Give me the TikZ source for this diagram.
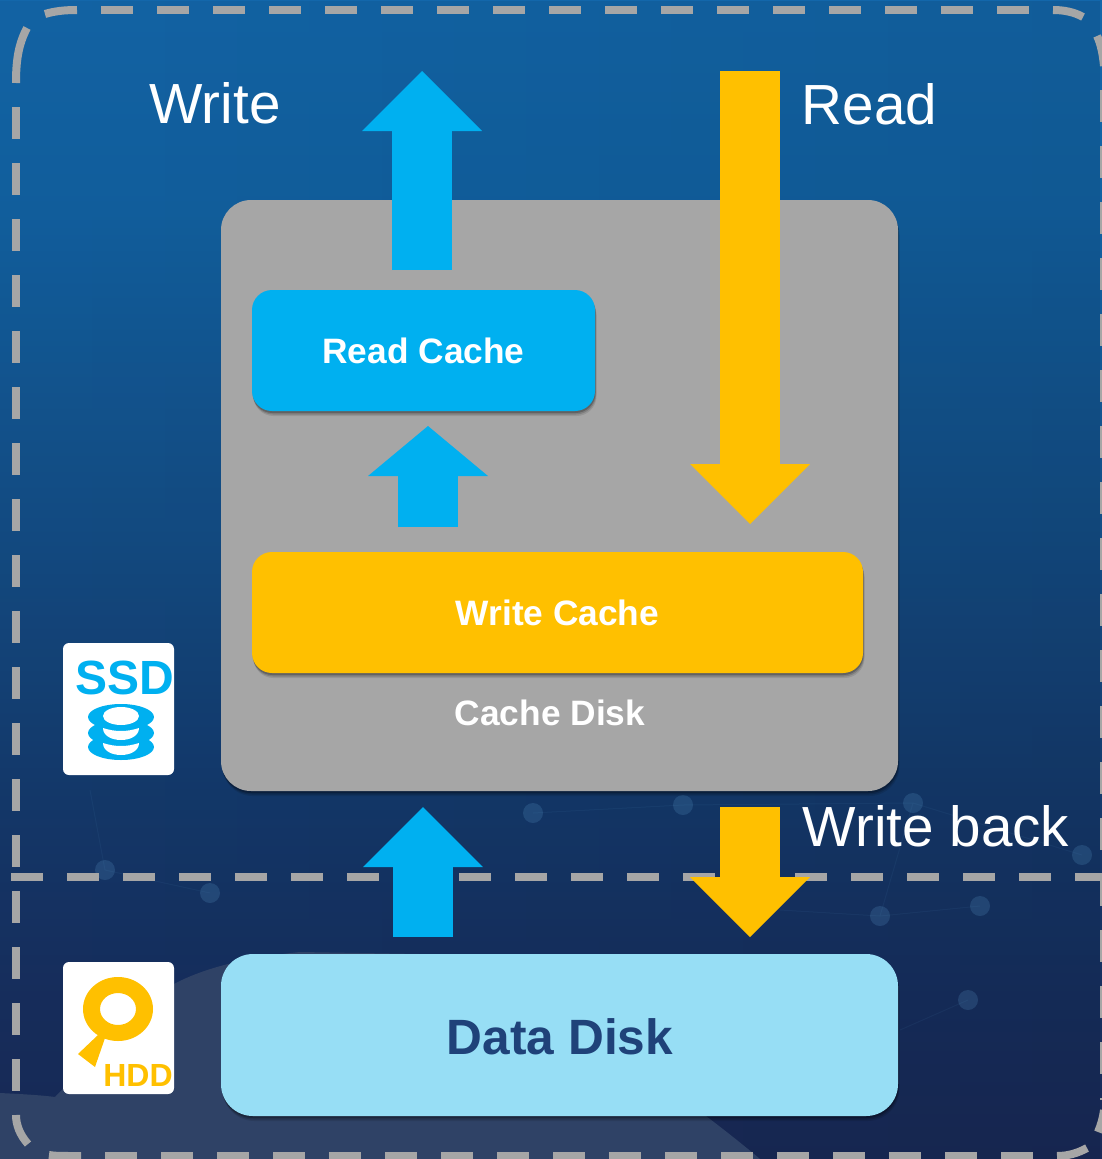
\documentclass[tikz,border=0pt]{standalone}
\usepackage{fontspec}
\setmainfont{Liberation Sans}
\usetikzlibrary{arrows.meta,shadows,fadings}
\definecolor{cblue}{HTML}{00B0F0}
\definecolor{cgold}{HTML}{FFC000}
\definecolor{cgrey}{HTML}{A6A6A6}
\definecolor{clight}{HTML}{97DEF5}
\definecolor{cnavy}{HTML}{1F4279}
\definecolor{chill}{HTML}{2F4266}
\definecolor{cdot}{HTML}{5FA0D0}
\definecolor{bga}{rgb}{0.100,0.165,0.345}
\definecolor{bgb}{rgb}{0.090,0.185,0.375}
\definecolor{bgc}{rgb}{0.080,0.225,0.425}
\definecolor{bgd}{rgb}{0.075,0.310,0.535}
\definecolor{bge}{rgb}{0.070,0.385,0.640}
\definecolor{bgf}{rgb}{0.075,0.405,0.670}
\pgfdeclareverticalshading{bgshade}{100bp}{
 color(0bp)=(bga);
 color(25bp)=(bga);
 color(32bp)=(bgb);
 color(40bp)=(bgc);
 color(53bp)=(bgd);
 color(66bp)=(bge);
 color(75bp)=(bgf);
 color(100bp)=(bgf)}
\tikzfading[name=sidefade,left color=transparent!80,middle color=transparent!100,right color=transparent!50]
\tikzset{
 x=1pt,y=-1pt,
 softshadow/.style={
  general shadow={shadow xshift=1.5pt,shadow yshift=-5pt,opacity=.10,fill=black},
  general shadow={shadow xshift=1pt,shadow yshift=-3.5pt,opacity=.15,fill=black},
  general shadow={shadow xshift=.5pt,shadow yshift=-2pt,opacity=.22,fill=black}},
 cachebox/.style={rectangle,rounded corners=20pt,inner sep=0pt,font=\bfseries\fontsize{35.3}{35.3}\selectfont,text=white,softshadow},
 diskbox/.style={rectangle,inner sep=0pt,softshadow},
 iconbox/.style={rectangle,fill=white,rounded corners=6pt,inner sep=0pt,minimum width=111pt,minimum height=132pt},
 biglabel/.style={font=\fontsize{56.6}{56.6}\selectfont,text=white,inner sep=0pt},
 greyline/.style={draw=cgrey,line width=8pt,dash pattern=on 32pt off 24pt},
 greycurve/.style={draw=cgrey,line width=8pt},
 bluearrow/.style={draw=cblue,line width=60pt,-{Triangle[length=60pt,width=120pt,line width=0pt]}},
 shortarrow/.style={draw=cblue,line width=60pt,-{Triangle[length=50pt,width=120pt,line width=0pt]}},
 goldarrow/.style={draw=cgold,line width=60pt,-{Triangle[length=60pt,width=120pt,line width=0pt]}},
 netdot/.style={fill=cdot,opacity=.2},
 netline/.style={draw=cdot,opacity=.07,line width=1pt},
}
\begin{document}
\begin{tikzpicture}
\useasboundingbox (0,0) rectangle (1102,1159);
% background
\path[shading=bgshade] (0,0) rectangle (1102,1159);
\fill[black,opacity=.2,path fading=sidefade] (0,0) rectangle (1102,1159);
\fill[chill] (0,1093) .. controls (20,1094) and (40,1095) .. (55,1097) -- (120,1030) -- (174,984) .. controls (200,970) and (240,958) .. (300,952) -- (480,955) .. controls (600,1040) and (690,1100) .. (760,1159) -- (0,1159) -- cycle;
% network
\draw[netline] (105,870) -- (90,790) (105,870) -- (210,893) (533,813) -- (683,805) -- (913,803) -- (880,916) (880,916) -- (780,910) (913,803) -- (1082,855) (980,906) -- (880,916) (968,1000) -- (900,1030);
\foreach \p in {(105,870),(210,893),(533,813),(683,805),(913,803),(880,916),(980,906),(968,1000),(1082,855)}
 \fill[netdot] \p circle (10pt);
% dashed frame
\draw[greyline] (101,10) -- (1040,10);
\draw[greyline] (16,107) -- (16,1095);
\draw[greyline] (105,1156) -- (1050,1156);
\draw[greyline] (1104,90) -- (1104,1100);
\draw[greycurve] (16,83) .. controls (16,62) and (18,45) .. (27,28);
\draw[greycurve] (45,14) .. controls (55,11) and (65,10) .. (77,10);
\draw[greycurve] (16,1115) .. controls (16,1125) and (20,1135) .. (28,1144);
\draw[greycurve] (49,1155) .. controls (55,1156) and (60,1156) .. (81,1156);
\draw[greycurve] (1053,10) .. controls (1064,10) and (1074,12) .. (1083,17);
\draw[greycurve] (1097,36) .. controls (1101,44) and (1103,55) .. (1104,66);
\draw[greycurve] (1057,1156) .. controls (1068,1156) and (1078,1153) .. (1087,1148);
\draw[greycurve] (1104,1110) .. controls (1103,1118) and (1101,1125) .. (1098,1132);
\draw[greyline] (11,877) -- (1102,877);
% boxes
\node[diskbox,rounded corners=30pt,fill=cgrey,minimum width=677pt,minimum height=591pt] (cache) at (559.5,495.5) {};
\node[font=\bfseries\fontsize{35.3}{35.3}\selectfont,text=white,inner sep=0pt] (cachelabel) at (550,713) {Cache Disk};
\node[cachebox,fill=cblue,minimum width=343pt,minimum height=121pt] (readc) at (423.5,350.5) {Read Cache};
\node[cachebox,fill=cgold,minimum width=611pt,minimum height=121pt] (writec) at (557.5,612.5) {Write Cache};
\node[diskbox,rounded corners=32pt,fill=clight,minimum width=677pt,minimum height=162pt] (data) at (559.5,1035) {};
\node[font=\bfseries\fontsize{49.6}{49.6}\selectfont,text=cnavy,inner sep=0pt] (datatext) at (560,1037) {Data Disk};
% arrows
\coordinate (a1s) at (422,270); \coordinate (a1e) at (422,71);
\coordinate (a2s) at (428,527); \coordinate (a2e) at (428,426);
\coordinate (a3s) at (423,937); \coordinate (a3e) at (423,807);
\coordinate (a4s) at (750,71);  \coordinate (a4e) at (750,524);
\coordinate (a5s) at (750,807); \coordinate (a5e) at (750,937);
\draw[bluearrow] (a1s) -- (a1e);
\draw[shortarrow] (a2s) -- (a2e);
\draw[bluearrow] (a3s) -- (a3e);
\draw[goldarrow] (a4s) -- (a4e);
\draw[goldarrow] (a5s) -- (a5e);
% labels
\node[biglabel] (lwrite) at (215,103) {Write};
\node[biglabel] (lread) at (869.5,104) {Read};
\node[biglabel] (lback) at (936,826) {Write back};
% SSD icon
\node[iconbox] (ssd) at (118.5,709) {};
\node[font=\bfseries\fontsize{48}{48}\selectfont,text=cblue,inner sep=0pt] (ssdtext) at (125,678) {SSD};
\fill[cblue] (121,717) ellipse (33pt and 13pt);
\fill[cblue] (121,733) ellipse (33pt and 13pt);
\fill[cblue] (121,747) ellipse (33pt and 13pt);
\fill[white] (121,716) ellipse (18pt and 9pt);
\fill[white] (103,728) .. controls (115,732) and (127,732) .. (139,728) .. controls (139,736) and (130,740) .. (121,740) .. controls (112,740) and (103,736) .. (103,728) -- cycle;
\fill[white] (103,743) .. controls (115,747) and (127,747) .. (139,743) .. controls (139,751) and (130,755) .. (121,755) .. controls (112,755) and (103,751) .. (103,743) -- cycle;
% HDD icon
\node[iconbox] (hdd) at (118.5,1028) {};
\fill[cgold,even odd rule] (118,1009) ellipse (35pt and 32pt) (118,1009) ellipse (18pt and 16pt);
\fill[cgold] (98,1035) -- (78,1054) -- (95,1067) -- (105,1038) -- cycle;
\node[font=\bfseries\fontsize{32}{32}\selectfont,text=cgold,inner sep=0pt] (hddtext) at (138,1075) {HDD};
\end{tikzpicture}
\end{document}
